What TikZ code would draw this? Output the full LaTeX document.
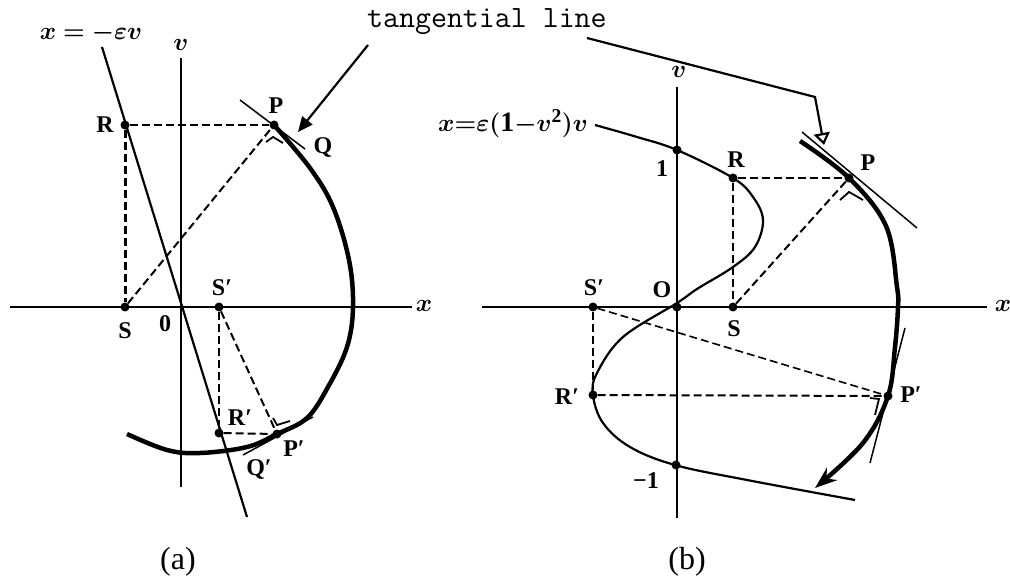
\documentclass[tikz,border=0pt]{standalone}
\usepackage{amsmath}
\usepackage{fontspec}
\setmainfont{Liberation Serif}
\usetikzlibrary{arrows.meta, calc}

\begin{document}
\begin{tikzpicture}[x=1pt, y=-1pt,
    dot/.style={circle, fill=black, inner sep=0pt, minimum size=9pt},
    lab/.style={font=\fontsize{24}{26}\selectfont\bfseries, inner sep=1pt},
    mlab/.style={font=\fontsize{24}{26}\selectfont, inner sep=1pt},
    panellab/.style={font=\fontsize{32}{34}\selectfont},
    axis/.style={line width=2.8pt},
    guide/.style={dash pattern=on 8pt off 4pt, line width=2pt},
    traj/.style={line width=4.5pt},
    tanline/.style={line width=1.5pt},
    rtmark/.style={line width=1.8pt},
    lead/.style={line width=2.2pt}
  ]
  \useasboundingbox (0,0) rectangle (1010,580);

  % ---------- panel (a) ----------
  \coordinate (axL) at (10,307);
  \coordinate (axR) at (412,307);
  \coordinate (avT) at (181,58);
  \coordinate (avB) at (181,487);
  \draw[axis] (axL) -- (axR);
  \draw[axis] (avT) -- (avB);
  \node[mlab] (xa) at (424,306) {$\boldsymbol{x}$};
  \node[mlab] (va) at (181,45) {$\boldsymbol{v}$};

  % x = -eps v
  \coordinate (lineTop) at (102,47);
  \coordinate (lineBot) at (247,517);
  \draw[line width=2.2pt] (lineTop) -- (lineBot);
  \node[mlab] (eqa) at (91,33) {$\boldsymbol{x}\boldsymbol{=}\boldsymbol{-}\boldsymbol{\varepsilon v}$};

  \node[dot] (Ra) at (125,125) {};
  \node[dot] (Pa) at (274,125) {};
  \node[dot] (Sa) at (125,307) {};
  \node[dot] (Spa) at (219,307) {};
  \node[dot] (Rpa) at (219,433) {};
  \node[dot] (Ppa) at (277,434) {};

  \node[lab] at (105,125) {R};
  \node[lab] at (276,106) {P};
  \node[lab] at (323,148) {Q};
  \node[lab] at (125,331) {S};
  \node[lab] at (165,324) {0};
  \node[lab] at (222,288) {S′};
  \node[lab] at (240,418) {R′};
  \node[lab] at (294,449) {P′};
  \node[lab] at (259,469) {Q′};

  \draw[guide, line width=3pt] (Ra) -- (Sa);
  \draw[guide] (Ra) -- (Pa);
  \draw[guide] (Sa) -- (Pa);
  \draw[guide] (Spa) -- (Rpa);
  \draw[guide] (Spa) -- (Ppa);
  \draw[guide] (Rpa) -- (Ppa);

  % trajectory
  \draw[traj] plot[smooth, tension=0.6] coordinates {(274,125) (310,168) (333,207) (349,260) (353,307) (347,347) (328,387) (307,418) (277,434) (247,447) (200,453) (167,450) (127,434)};

  % tangents and right angles
  \coordinate (tPa1) at (240,100);
  \coordinate (tPa2) at (305,149);
  \draw[tanline] (tPa1) -- (tPa2);
  \coordinate (tPpa1) at (243,455);
  \coordinate (tPpa2) at (313,417);
  \draw[tanline] (tPpa1) -- (tPpa2);
  \draw[rtmark] ($(Pa)+(-8,17)$) -- ($(Pa)+(-1,12)$) -- ($(Pa)+(9,18)$);
  \draw[rtmark] ($(Ppa)+(-4,-16)$) -- ($(Ppa)+(0,-9)$) -- ($(Ppa)+(13,-13)$);

  \node[panellab] (capa) at (178,562) {(a)};

  % ---------- label ----------
  \node[font=\fontsize{31}{33}\selectfont\ttfamily, anchor=west, inner sep=0pt] (tanlab) at (367,22) {tangential line};
  \coordinate (ldA) at (368,45);
  \coordinate (tipA) at (298,132);
  \draw[lead, -{Triangle[length=15pt, width=13pt]}] (ldA) -- (tipA);
  \coordinate (ldB) at (587,38);
  \coordinate (bend) at (815,97);
  \coordinate (tipB) at (824,145);
  \draw[lead, -{Triangle[open, length=12pt, width=16pt, line width=2.2pt]}] (ldB) -- (bend) -- (tipB);

  % ---------- panel (b) ----------
  \coordinate (bxL) at (482,307);
  \coordinate (bxR) at (987,307);
  \coordinate (bvT) at (677,87);
  \coordinate (bvB) at (677,518);
  \draw[axis] (bxL) -- (bxR);
  \draw[axis] (bvT) -- (bvB);
  \node[mlab] (xb) at (1003,306) {$\boldsymbol{x}$};
  \node[mlab] (vb) at (679,72) {$\boldsymbol{v}$};
  \node[mlab, anchor=east, font=\fontsize{28}{30}\selectfont] (eqb) at (589,124) {$\boldsymbol{x}{\boldsymbol{=}}\boldsymbol{\varepsilon}\boldsymbol{(}\mathbf{1}{\boldsymbol{-}}\boldsymbol{v}^{\mathbf{2}}\boldsymbol{)}\boldsymbol{v}$};

  \node[dot] (one) at (677,150) {};
  \node[dot] (Rb) at (733,178) {};
  \node[dot] (Pb) at (849,178) {};
  \node[dot] (Spb) at (593,307) {};
  \node[dot] (Ob) at (677,307) {};
  \node[dot] (Sb) at (733,307) {};
  \node[dot] (Rpb) at (593,395) {};
  \node[dot] (Ppb) at (888,396) {};
  \node[dot] (mone) at (676,465) {};

  \node[lab] at (662,169) {1};
  \node[lab] at (646,481) {−1};
  \node[lab] at (662,290) {O};
  \node[lab] at (594,288) {S′};
  \node[lab] at (734,329) {S};
  \node[lab] at (736,160) {R};
  \node[lab] at (868,163) {P};
  \node[lab] at (567,397) {R′};
  \node[lab] at (911,395) {P′};

  % x = eps(1-v^2)v
  \draw[line width=2.2pt] plot[smooth, tension=0.6] coordinates {(595,125) (637,137) (677,150) (733,178) (753,197) (763,220) (755,247) (733,267) (697,289) (677,303) (623,337) (597,373) (593,395) (603,423) (630,447) (675,465) (747,480) (855,500)};

  \draw[guide] (Rb) -- (Pb);
  \draw[guide] (Rb) -- (Sb);
  \draw[guide] (Sb) -- (Pb);
  \draw[guide] (Spb) -- (Rpb);
  \draw[guide] (Rpb) -- (Ppb);
  \draw[guide, line width=1.6pt] (Spb) -- (Ppb);

  % trajectory
  \draw[traj, -{Stealth[length=22pt, width=16pt]}] plot[smooth, tension=0.6] coordinates {(800,141) (849,178) (886,226) (897,287) (898,307) (895,347) (888,396) (863,443) (815,488)};

  % tangents and right angles
  \coordinate (tPb1) at (802,132);
  \coordinate (tPb2) at (917,228);
  \draw[tanline] (tPb1) -- (tPb2);
  \coordinate (tPpb1) at (905,328);
  \coordinate (tPpb2) at (870,463);
  \draw[tanline] (tPpb1) -- (tPpb2);
  \draw[rtmark] ($(Pb)+(-9,22)$) -- ($(Pb)+(0,14)$) -- ($(Pb)+(14,22)$);
  \draw[rtmark] ($(Ppb)+(-18,2)$) -- ($(Ppb)+(-9,3)$) -- ($(Ppb)+(-13,19)$);

  \node[panellab] (capb) at (687,562) {(b)};
\end{tikzpicture}
\end{document}
